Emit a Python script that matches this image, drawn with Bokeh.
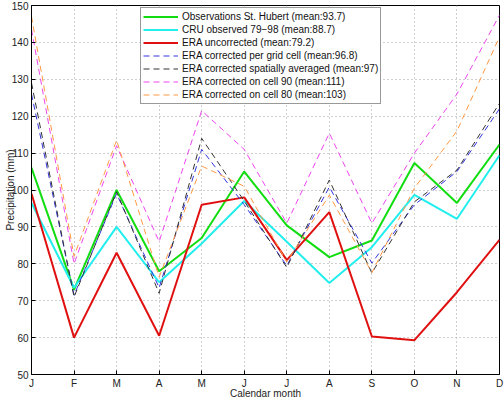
import math
from bokeh.plotting import figure
from bokeh.models import FixedTicker, LinearAxis, Legend, LegendItem
from bokeh.embed import file_html
from bokeh.resources import INLINE

months = ["J", "F", "M", "A", "M", "J", "J", "A", "S", "O", "N", "D"]
month_idx = list(range(12))

obs_st_hubert = [106, 73, 100, 78, 87, 105, 90.4, 81.8, 86.3, 107.3, 96.5, 112.3]
cru_observed = [96.5, 73.5, 90, 75, 85.5, 97, 86, 74.8, 84.5, 98.7, 92.2, 109.4]
era_uncorrected = [99, 60, 83, 60.5, 96, 98, 81, 94, 60.3, 59.3, 72.3, 86.5]
era_per_cell = [126, 71.5, 99, 73.5, 111, 96, 79.5, 100.8, 80.2, 96, 105, 122]
era_spatial_avg = [129, 71, 99.5, 72, 114, 97, 79, 102.7, 77.5, 96.8, 105.4, 123.5]
era_cell90 = [143.5, 80, 112, 86, 121.5, 111, 91, 115.4, 91, 110, 126, 147.4]
era_cell80 = [147, 82, 113.5, 76.4, 106.5, 101, 80.5, 98.6, 77.6, 100.5, 116, 141.5]

labels = [
    "Observations St. Hubert (mean:93.7)",
    "CRU observed 79\u221298 (mean:88.7)",
    "ERA uncorrected (mean:79.2)",
    "ERA corrected per grid cell (mean:96.8)",
    "ERA corrected spatially averaged (mean:97)",
    "ERA corrected on cell 90 (mean:111)",
    "ERA corrected on cell 80 (mean:103)",
]
y_ticks = list(range(50, 151, 10))

FONT = "Liberation Sans"

p = figure(width=504, height=401, output_backend="svg", toolbar_location=None,
           x_range=(0, 11), y_range=(50, 150),
           min_border_left=31, min_border_right=5, min_border_top=5, min_border_bottom=26,
           x_axis_location=None, y_axis_location=None)
p.outline_line_color = "black"
p.outline_line_width = 1
p.background_fill_color = "white"
p.border_fill_color = "white"

def style_axis(ax, title, label_standoff, title_standoff):
    ax.major_tick_in = 4
    ax.major_tick_out = 0
    ax.minor_tick_in = 0
    ax.minor_tick_out = 0
    ax.axis_line_color = "black"
    ax.major_tick_line_color = "black"
    ax.major_label_text_font = FONT
    ax.major_label_text_color = "#222222"
    ax.major_label_text_font_size = "10px"
    ax.major_label_standoff = label_standoff
    ax.axis_label = title
    ax.axis_label_text_font = FONT
    ax.axis_label_text_font_size = "10px"
    ax.axis_label_text_font_style = "normal"
    ax.axis_label_text_color = "#222222"
    ax.axis_label_standoff = title_standoff

xb = LinearAxis(ticker=FixedTicker(ticks=month_idx),
                major_label_overrides={i: m for i, m in enumerate(months)})
style_axis(xb, "Calendar month", 3, -4)
p.add_layout(xb, "below")
yl = LinearAxis(ticker=FixedTicker(ticks=y_ticks))
style_axis(yl, "Precipitation (mm)", 3, -7)
p.add_layout(yl, "left")

p.xgrid.ticker = FixedTicker(ticks=month_idx)
p.ygrid.ticker = FixedTicker(ticks=y_ticks)
for g in (p.xgrid, p.ygrid):
    g.grid_line_color = "#a0a0a0"
    g.grid_line_dash = "1 3"
    g.grid_line_width = 1

series = [
    (obs_st_hubert, "#11dd11", 2, "solid"),
    (cru_observed, "#22eeee", 2, "solid"),
    (era_uncorrected, "#e01010", 2, "solid"),
    (era_per_cell, "#3333dd", 1, "6 4"),
    (era_spatial_avg, "#333333", 1, "6 4"),
    (era_cell90, "#ee44ee", 1, "6 4"),
    (era_cell80, "#ff9944", 1, "6 4"),
]
items = []
for (vals, col, lw, dash), lab in zip(series, labels):
    r = p.line(month_idx, vals, line_color=col, line_width=lw, line_dash=dash)
    items.append(LegendItem(label=lab, renderers=[r]))

legend = Legend(items=items, location=(109, 270))
legend.label_text_font = FONT
legend.label_text_font_size = "10px"
legend.label_text_color = "#111111"
legend.label_height = 13
legend.glyph_height = 13
legend.glyph_width = 35
legend.label_standoff = 4
legend.spacing = 0
legend.padding = 2
legend.margin = 0
legend.border_line_color = "#333333"
legend.border_line_width = 1
legend.background_fill_alpha = 1
p.add_layout(legend, "center")

open("out.html", "w").write(file_html(p, INLINE))
